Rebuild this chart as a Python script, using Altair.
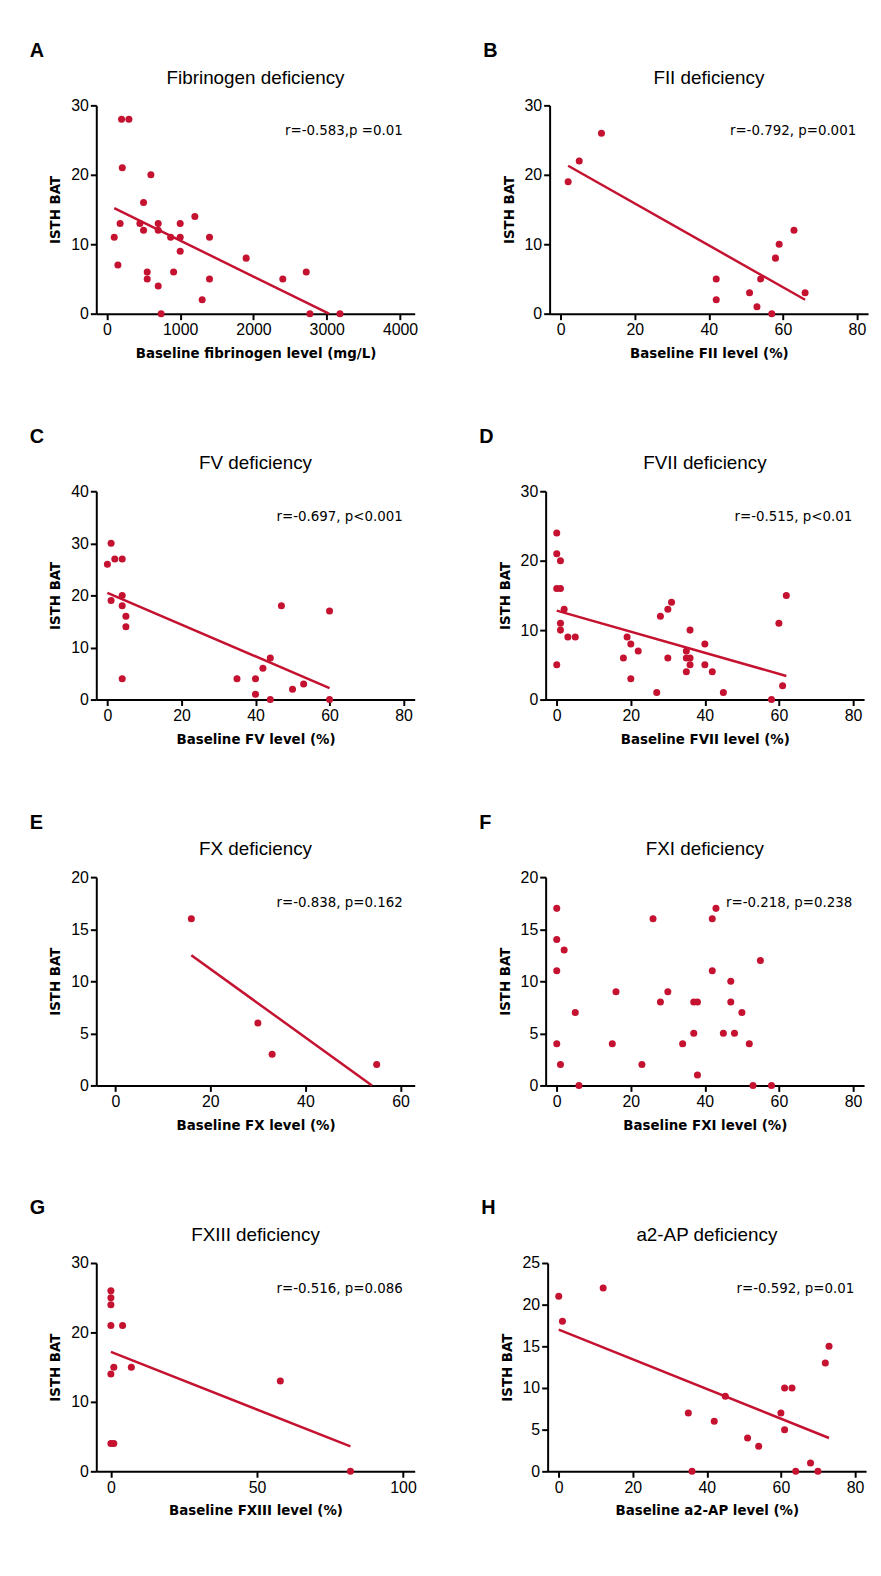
import altair as alt
import pandas as pd

RED = "#c41230"

# panel A: fibrinogen
fib_x = [100, 150, 180, 200, 210, 300, 450, 500, 500, 550, 550, 600, 700, 700, 700, 740,
         870, 910, 1000, 1000, 1000, 1200, 1400, 1400, 1300, 1900, 2400, 2720, 2770, 3180]
fib_y = [11, 7, 13, 28, 21, 28, 13, 16, 12, 6, 5, 20, 13, 12, 4, 0,
         11, 6, 13, 11, 9, 14, 11, 5, 2, 8, 5, 6, 0, 0]
# panel B: FII
f2_x = [2, 5, 11, 42, 42, 51, 53, 54, 57, 58, 59, 63, 66]
f2_y = [19, 22, 26, 5, 2, 3, 1, 5, 0, 8, 10, 12, 3]
# panel C: FV
f5_x = [0, 1, 1, 2, 4, 4, 4, 4, 5, 5, 35, 40, 40, 42, 44, 44, 47, 50, 53, 60, 60]
f5_y = [26, 30, 19, 27, 27, 20, 18, 4, 16, 14, 4, 4, 1, 6, 8, 0, 18, 2, 3, 17, 0]
# panel D: FVII
f7_x = [0, 0, 0, 0, 1, 1, 1, 1, 2, 3, 5, 18, 19, 20, 20, 22, 27, 28, 30, 30, 31, 35, 35,
        35, 36, 36, 36, 40, 40, 42, 45, 58, 60, 61, 62]
f7_y = [24, 21, 16, 5, 20, 16, 11, 10, 13, 9, 9, 6, 9, 8, 3, 7, 1, 12, 13, 6, 14, 7, 4,
        6, 6, 5, 10, 8, 5, 4, 1, 0, 11, 2, 15]
# panel E: FX
f10_x = [16, 30, 33, 55]
f10_y = [16, 6, 3, 2]
# panel F: FXI
f11_x = [0, 0, 0, 0, 1, 2, 5, 6, 15, 16, 23, 26, 28, 30, 34, 37, 37, 38, 38, 42, 42, 43,
         45, 47, 47, 48, 50, 52, 53, 55, 58]
f11_y = [17, 14, 11, 4, 2, 13, 7, 0, 4, 9, 2, 16, 8, 9, 4, 8, 5, 8, 1, 16, 11, 17,
         5, 10, 8, 5, 7, 4, 0, 12, 0]
# panel G: FXIII
f13_x = [0, 0, 0, 0, 0, 0, 1, 1, 4, 7, 58, 82]
f13_y = [26, 25, 24, 21, 14, 4, 4, 15, 21, 15, 13, 0]
# panel H: a2-AP
ap_x = [0, 1, 12, 35, 36, 42, 45, 51, 54, 60, 61, 61, 63, 64, 68, 70, 72, 73]
ap_y = [21, 18, 22, 7, 0, 6, 9, 4, 3, 7, 10, 5, 10, 0, 1, 0, 13, 15]

W, H = 321, 210
NARROW = "DejaVu Sans Condensed"


def panel(letter, title, xs, ys, xtitle, xdom, xticks, ymax, ystep, stat, fit=None):
    pts = pd.DataFrame({"x": xs, "y": ys})
    xs_ = alt.X("x:Q", scale=alt.Scale(domain=xdom, nice=False, zero=False),
                axis=alt.Axis(values=xticks, title=xtitle, format="d"))
    ys_ = alt.Y("y:Q", scale=alt.Scale(domain=[0, ymax], nice=False),
                axis=alt.Axis(values=list(range(0, ymax + 1, ystep)), title="ISTH BAT"))
    layers = []
    if fit:
        ln = pd.DataFrame({"x": [fit[0], fit[2]], "y": [fit[1], fit[3]]})
        layers.append(alt.Chart(ln).mark_line(color=RED, strokeWidth=2.5).encode(x=xs_, y=ys_))
    layers.append(alt.Chart(pts).mark_circle(color=RED, size=50, opacity=1).encode(x=xs_, y=ys_))
    lab = pd.DataFrame({"t": [stat]})
    layers.append(alt.Chart(lab).mark_text(align="right", baseline="middle", fontSize=15,
                                           font=NARROW, color="black")
                  .encode(x=alt.value(W - 12), y=alt.value(25), text="t:N"))
    let = pd.DataFrame({"t": [letter]})
    layers.append(alt.Chart(let).mark_text(align="left", baseline="middle", fontSize=20,
                                           fontWeight="bold", font="Liberation Sans", color="black")
                  .encode(x=alt.value(-67), y=alt.value(-55), text="t:N"))
    tt = pd.DataFrame({"t": [title]})
    layers.append(alt.Chart(tt).mark_text(align="center", baseline="middle", fontSize=19,
                                          font="Liberation Sans", color="black")
                  .encode(x=alt.value(W / 2), y=alt.value(-28), text="t:N"))
    return alt.layer(*layers).properties(width=W, height=H)


pct = [0, 20, 40, 60, 80]
pdom = [-3, 83]
A = panel("A", "Fibrinogen deficiency", fib_x, fib_y, "Baseline fibrinogen level (mg/L)",
          [-145, 4200], [0, 1000, 2000, 3000, 4000], 30, 10, "r=-0.583,p =0.01",
          (100, 15.2, 3030, 0))
B = panel("B", "FII deficiency", f2_x, f2_y, "Baseline FII level (%)", pdom, pct, 30, 10,
          "r=-0.792, p=0.001", (2, 21.3, 66, 2))
C = panel("C", "FV deficiency", f5_x, f5_y, "Baseline FV level (%)", pdom, pct, 40, 10,
          "r=-0.697, p<0.001", (0, 20.5, 60, 2.2))
D = panel("D", "FVII deficiency", f7_x, f7_y, "Baseline FVII level (%)", pdom, pct, 30, 10,
          "r=-0.515, p<0.01", (0, 12.8, 62, 3.4))
E = panel("E", "FX deficiency", f10_x, f10_y, "Baseline FX level (%)", [-4, 63], [0, 20, 40, 60],
          20, 5, "r=-0.838, p=0.162", (16, 12.5, 54, 0))
F = panel("F", "FXI deficiency", f11_x, f11_y, "Baseline FXI level (%)", pdom, pct, 20, 5,
          "r=-0.218, p=0.238")
G = panel("G", "FXIII deficiency", f13_x, f13_y, "Baseline FXIII level (%)", [-5, 104],
          [0, 50, 100], 30, 10, "r=-0.516, p=0.086", (0, 17.2, 82, 3.6))
Hp = panel("H", "a2-AP deficiency", ap_x, ap_y, "Baseline a2-AP level (%)", pdom, pct, 25, 5,
           "r=-0.592, p=0.01", (0, 17, 73, 4))

chart = alt.vconcat(
    alt.hconcat(A, B, spacing=65),
    alt.hconcat(C, D, spacing=65),
    alt.hconcat(E, F, spacing=65),
    alt.hconcat(G, Hp, spacing=65),
    spacing=67,
).properties(padding={"left": 22, "top": 27, "right": 5, "bottom": 5}).configure_view(
    stroke=None
).configure_axis(
    grid=False, domainColor="black", tickColor="black", labelColor="black", titleColor="black",
    labelFontSize=16, labelFont="Liberation Sans", titleFontSize=15,
    titleFont=NARROW, titleFontWeight="bold", domainWidth=2, tickWidth=2,
    tickSize=6, titlePadding=8
)

chart.save("out.html", embed_options={"renderer": "svg", "actions": False})
